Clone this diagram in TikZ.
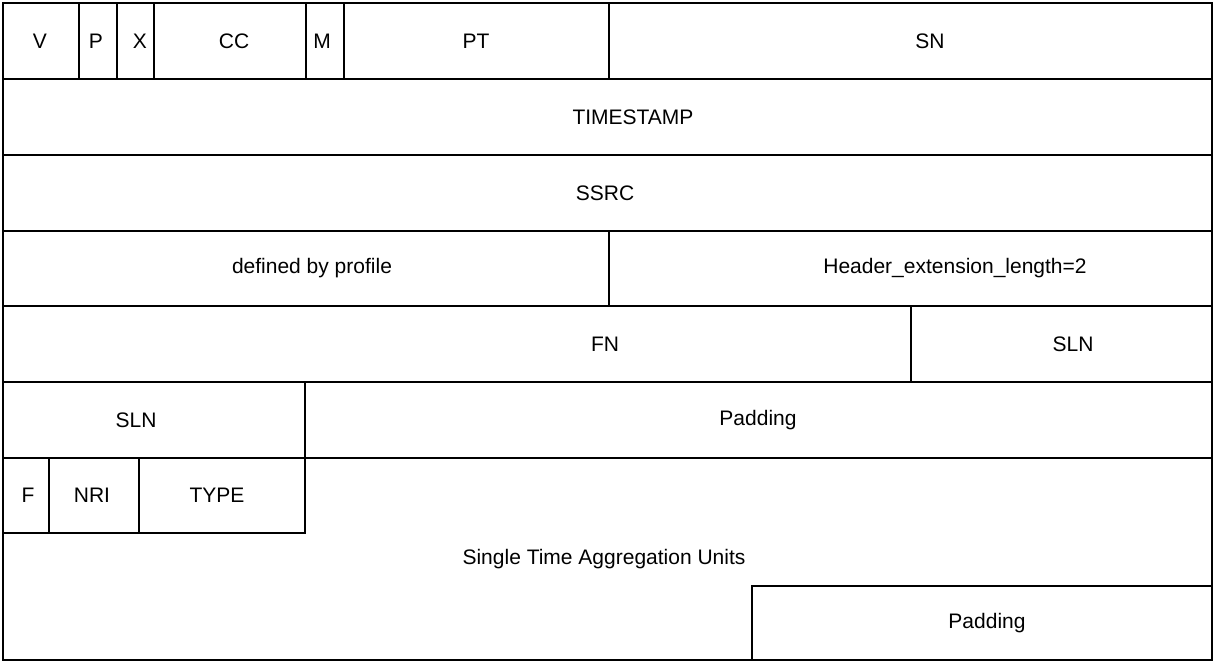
\documentclass[tikz,border=0pt]{standalone}
\usepackage{fontspec}
\setmainfont{Liberation Sans}
\begin{document}
\begin{tikzpicture}[x=1pt,y=-1pt,
  cell/.style={draw=black, line width=1.3pt, inner sep=0pt, anchor=center},
  lbl/.style={inner sep=0pt, font=\fontsize{21}{24}\selectfont}]
\useasboundingbox (0,0) rectangle (1214,662);
% outer frame
\draw[line width=1.3pt] (3,3) rectangle (1212,660);
\newcommand{\cellbox}[7]{% name, x1, y1, x2, y2, text, text x
  \node[cell, minimum width={#4-#2}, minimum height={#5-#3}] (#1) at ({(#2+#4)/2},{(#3+#5)/2}) {};
  \node[lbl] (#1-t) at (#7,{(#3+#5)/2}) {#6};}
% row 1
\cellbox{v}{3}{3}{79}{79}{V}{40}
\cellbox{p}{79}{3}{117}{79}{P}{96}
\cellbox{x}{117}{3}{154}{79}{X}{140}
\cellbox{cc}{154}{3}{306}{79}{CC}{234}
\cellbox{m}{306}{3}{344}{79}{M}{322}
\cellbox{pt}{344}{3}{609}{79}{PT}{476}
\cellbox{sn}{609}{3}{1212}{79}{SN}{930}
% rows 2-4
\cellbox{ts}{3}{79}{1212}{155}{TIMESTAMP}{633}
\cellbox{ssrc}{3}{155}{1212}{231}{SSRC}{605}
\cellbox{dbp}{3}{231}{609}{306}{defined by profile}{312}
\cellbox{hel}{609}{231}{1212}{306}{Header\_extension\_length=2}{955}
% row 5
\cellbox{fn}{3}{306}{911}{382}{FN}{605}
\cellbox{sln1}{911}{306}{1212}{382}{SLN}{1073}
% row 6
\cellbox{sln2}{3}{382}{305}{458}{SLN}{136}
\cellbox{pad1}{305}{382}{1212}{458}{Padding}{758}
% NAL header
\cellbox{f}{3}{458}{49}{533}{F}{28}
\cellbox{nri}{49}{458}{139}{533}{NRI}{92}
\cellbox{type}{139}{458}{305}{533}{TYPE}{217}
% aggregation units
\node[lbl] (stau) at (604,559) {Single Time Aggregation Units};
\cellbox{pad2}{752}{586}{1212}{660}{Padding}{987}
\end{tikzpicture}
\end{document}
